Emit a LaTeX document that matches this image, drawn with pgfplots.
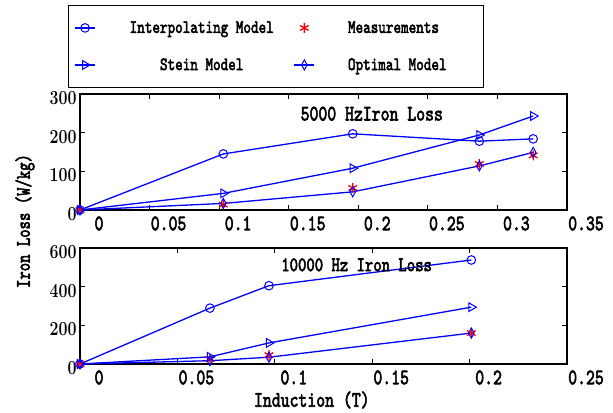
\documentclass[border=0pt]{standalone}
\usepackage{fontspec}
\usepackage{graphicx}
\usepackage{pgfplots}
\pgfplotsset{compat=1.18}
\newfontfamily\lmb{lmmono10-regular.otf}[FakeBold=3]
\newcommand\mt[1]{\fontsize{#1}{#1}\selectfont\lmb}
\newcommand\tl[1]{\scalebox{1}[1.3]{#1}}
\definecolor{mblue}{RGB}{0,0,255}
\definecolor{mred}{RGB}{255,0,0}
\pgfplotsset{
  myax/.style={
    width=487bp, height=116bp, scale only axis, clip=false,
    axis line style={line width=1.1bp, black},
    tick style={line width=0.8bp, black},
    major tick length=5bp, tick align=inside,
    xticklabel style={font=\mt{17}, xshift=19bp, yshift=-3bp},
    yticklabel style={font=\fontsize{16}{16}\selectfont\bfseries, yshift=-4bp},
    yticklabel={\scalebox{1}[1.25]{\pgfmathprintnumber{\tick}}},
    /pgf/number format/assume math mode=true,
    legend image code/.code={\draw[mark repeat=2,mark phase=2,#1] plot coordinates {(0bp,0bp) (10bp,0bp) (20bp,0bp)};},
  },
  interp/.style={mblue, line width=1.3bp, mark=o, mark size=4.3bp, mark options={solid, line width=1bp}},
  stein/.style={mblue, line width=1.3bp, mark=triangle, mark size=5bp, mark options={solid, line width=1bp, rotate=-90}},
  optim/.style={mblue, line width=1.3bp, mark=diamond, mark size=5bp, mark options={solid, line width=1bp, xscale=0.75}},
  meas/.style={mred, only marks, mark=asterisk, mark size=5bp, mark options={line width=1.3bp}},
}
\begin{document}
\begin{tikzpicture}
\path[use as bounding box] (0bp,0bp) rectangle (613bp,-413bp);
% top axis
\begin{axis}[myax, at={(80bp,-94bp)}, anchor=north west,
  xmin=0, xmax=0.35, ymin=0, ymax=300,
  xtick={0,0.05,0.1,0.15,0.2,0.25,0.3,0.35},
  xticklabels={\tl{0},\tl{0.05},\tl{0.1},\tl{0.15},\tl{0.2},\tl{0.25},\tl{0.3},\tl{0.35}},
  ytick={0,100,200,300},
  ylabel={\tl{Iron Loss (W/kg)}},
  every axis y label/.style={at={(axis description cs:-0.113,-0.095)}, rotate=90, anchor=center, font=\mt{16}},
  legend columns=2,
  legend style={at={(-0.0246,1.767)}, anchor=north west, draw=black, line width=0.8bp,
    font=\mt{14.5}, inner xsep=6bp, inner ysep=14bp, row sep=20bp,
    /tikz/every even column/.append style={column sep=0bp}},
]
\addplot[interp] coordinates {(0,0) (0.103,145) (0.196,197) (0.287,178) (0.3257,184)};
\addlegendentry{\hspace*{14bp}\makebox[180bp][c]{\tl{Interpolating Model}}}
\addplot[meas] coordinates {(0,0) (0.103,14) (0.196,57) (0.287,119) (0.3257,141)};
\addlegendentry{\makebox[158bp][l]{\hspace*{31bp}\tl{Measurements}}}
\addplot[stein] coordinates {(0,0) (0.103,43) (0.196,108) (0.287,194) (0.3257,243)};
\addlegendentry{\hspace*{14bp}\makebox[180bp][c]{\tl{Stein Model}}}
\addplot[optim] coordinates {(0,0) (0.103,17) (0.196,47) (0.287,114) (0.3257,149)};
\addlegendentry{\makebox[158bp][l]{\hspace*{31bp}\tl{Optimal Model}}}
\node[font=\mt{17}] at (axis cs:0.2097,249) {\tl{5000 HzIron Loss}};
\end{axis}
% bottom axis
\begin{axis}[myax, at={(80bp,-248bp)}, anchor=north west,
  xmin=0, xmax=0.25, ymin=0, ymax=600,
  xtick={0,0.05,0.1,0.15,0.2,0.25},
  xticklabels={\tl{0},\tl{0.05},\tl{0.1},\tl{0.15},\tl{0.2},\tl{0.25}},
  ytick={0,200,400,600},
  xlabel={\tl{Induction (T)}},
  every axis x label/.style={at={(axis description cs:0.476,-0.31)}, anchor=center, font=\mt{17}},
]
\addplot[interp] coordinates {(0,0) (0.0667,289) (0.097,405) (0.2009,538)};
\addplot[meas] coordinates {(0,0) (0.0667,25) (0.097,46) (0.2009,160)};
\addplot[stein] coordinates {(0,0) (0.0667,37) (0.097,109) (0.2009,294)};
\addplot[optim] coordinates {(0,0) (0.0667,17) (0.097,35) (0.2009,160)};
\node[font=\mt{16}] at (axis cs:0.142,513) {\tl{10000 Hz Iron Loss}};
\end{axis}
\end{tikzpicture}
\end{document}
